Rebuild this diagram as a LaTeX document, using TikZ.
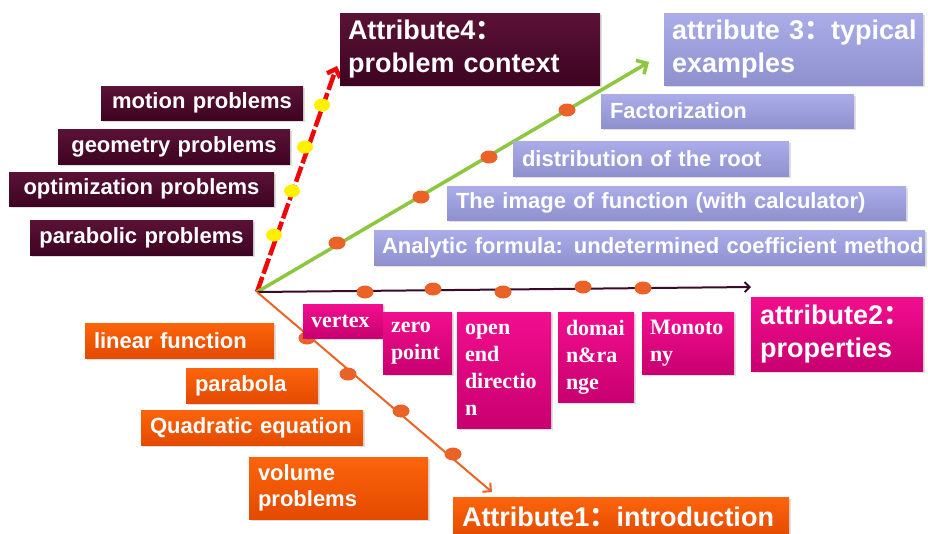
\documentclass[tikz,border=0pt]{standalone}
\usepackage{fontspec}
\setmainfont{Liberation Sans}
\newfontfamily\serifb{Liberation Serif}
\newfontfamily\cjkf{Noto Sans CJK SC}
\usetikzlibrary{arrows.meta,shapes.geometric,shadows}
\definecolor{darkA}{RGB}{90,18,54}
\definecolor{darkB}{RGB}{62,4,34}
\definecolor{lavA}{RGB}{170,173,232}
\definecolor{lavB}{RGB}{142,145,206}
\definecolor{pinkA}{RGB}{242,14,142}
\definecolor{pinkB}{RGB}{200,0,112}
\definecolor{orA}{RGB}{252,100,12}
\definecolor{orB}{RGB}{228,74,0}
\definecolor{redL}{RGB}{240,8,8}
\definecolor{greenL}{RGB}{141,198,63}
\definecolor{darkL}{RGB}{58,10,42}
\definecolor{orL}{RGB}{235,100,38}
\definecolor{dotO}{RGB}{234,98,40}
\definecolor{dotY}{RGB}{255,240,0}
\newcommand\fwcolon{{\cjkf ：}}
\tikzset{
  bx/.style={anchor=north west, inner ysep=0pt, outer sep=0pt, text=white,
    drop shadow={opacity=0.25, shadow xshift=1.5pt, shadow yshift=-1.5pt}},
  smallf/.style={font=\fontsize{22pt}{26.5pt}\selectfont\bfseries},
  bigf/.style={font=\fontsize{27pt}{33pt}\selectfont\bfseries},
  seriff/.style={font=\fontsize{22pt}{26.8pt}\selectfont\serifb\bfseries},
  darkbox/.style={bx, top color=darkA, bottom color=darkB},
  lavbox/.style={bx, top color=lavA, bottom color=lavB},
  pinkbox/.style={bx, top color=pinkA, bottom color=pinkB},
  orbox/.style={bx, top color=orA, bottom color=orB},
  odot/.style={ellipse, fill=dotO, minimum width=17pt, minimum height=13pt, inner sep=0pt},
  ydot/.style={ellipse, fill=dotY, minimum width=16pt, minimum height=13pt, inner sep=0pt},
}
\begin{document}
\begin{tikzpicture}[x=1pt,y=-1pt]
\useasboundingbox[fill=white] (0,0) rectangle (928,533);
% origin and arrow ends
\coordinate (O) at (257,292);
\coordinate (t4) at (337,66);
\coordinate (t3) at (649,62);
\coordinate (t2) at (751,287);
\coordinate (t1) at (492,492);
% connectors
\draw[redL, line width=4.5pt, dash pattern=on 16pt off 3.5pt, -{Straight Barb[length=7pt,width=14pt]}] (O) -- (t4);
\draw[greenL, line width=3.5pt, -{Straight Barb[length=8pt,width=16pt]}] (O) -- (t3);
\draw[darkL, line width=2pt, -{Straight Barb[length=5pt,width=10pt]}] (O) -- (t2);
\draw[orL, line width=2pt, -{Straight Barb[length=6pt,width=12pt]}] (O) -- (t1);
% dots
\node[ydot] (y1) at (322,105) {};
\node[ydot] (y2) at (305,147) {};
\node[ydot] (y3) at (292,191) {};
\node[ydot] (y4) at (274,235) {};
\node[odot] (g1) at (337,243) {};
\node[odot] (g2) at (421,197) {};
\node[odot] (g3) at (489,157) {};
\node[odot] (g4) at (567,110) {};
\node[odot] (h1) at (365,292) {};
\node[odot] (h2) at (433,289) {};
\node[odot] (h3) at (503,292) {};
\node[odot] (h4) at (583,287) {};
\node[odot] (h5) at (643,288) {};
\node[odot] (o1) at (307,338) {};
\node[odot] (o2) at (348,374) {};
\node[odot] (o3) at (401,411) {};
\node[odot] (o4) at (453,454) {};
% attribute 4 group
\node[darkbox, smallf, align=center, inner xsep=2pt, text width=198pt, minimum height=34pt] (mp) at (101,86) {\mbox{motion problems}};
\node[darkbox, smallf, align=center, inner xsep=2pt, text width=228pt, minimum height=35pt] (gp) at (58,129) {\mbox{geometry problems}};
\node[darkbox, smallf, align=center, inner xsep=2pt, text width=261pt, minimum height=34pt] (op) at (9,172) {\mbox{optimization problems}};
\node[darkbox, smallf, align=center, inner xsep=2pt, text width=219pt, minimum height=35pt] (pp) at (30,220) {\mbox{parabolic problems}};
\node[darkbox, bigf, align=left, inner xsep=8pt, text width=244pt, minimum height=72pt] (a4) at (340,13) {\mbox{Attribute4\fwcolon}\\\mbox{problem context}};
% attribute 3 group
\node[lavbox, bigf, align=left, inner xsep=8pt, text width=243pt, minimum height=72pt] (a3) at (664,13) {\mbox{attribute 3\fwcolon typical}\\\mbox{examples}};
\node[lavbox, smallf, align=left, inner xsep=9pt, text width=235pt, minimum height=34pt] (fac) at (601,94) {\mbox{Factorization}};
\node[lavbox, smallf, align=left, inner xsep=9pt, text width=258pt, minimum height=35pt] (dr) at (513,141) {\mbox{distribution of the root}};
\node[lavbox, smallf, align=left, inner xsep=9pt, text width=441pt, minimum height=34pt] (img) at (447,186) {\mbox{The image of function (with calculator)}};
\node[lavbox, smallf, align=left, inner xsep=8pt, text width=535pt, minimum height=35pt] (ana) at (374,230) {\mbox{Analytic formula: undetermined coefficient method}};
% attribute 2 group
\node[pinkbox, seriff, align=left, inner xsep=8pt, text width=64pt, minimum height=34pt] (vx) at (303,304) {vertex};
\node[pinkbox, seriff, align=left, inner xsep=8pt, text width=53pt, minimum height=62pt] (zp) at (383,312) {zero\\point};
\node[pinkbox, seriff, align=left, inner xsep=8pt, text width=78pt, minimum height=116pt] (oe) at (457,312) {open\\end\\directio\\n};
\node[pinkbox, seriff, align=left, inner xsep=8pt, text width=60pt, minimum height=90pt] (dm) at (558,312) {\mbox{domai}\\\mbox{n\&ra}\\nge};
\node[pinkbox, seriff, align=left, inner xsep=8pt, text width=76pt, minimum height=62pt] (mo) at (642,312) {Monoto\\ny};
\node[pinkbox, bigf, align=left, inner xsep=9pt, text width=154pt, minimum height=74pt] (a2) at (751,297) {\mbox{attribute2\fwcolon}\\\mbox{properties}};
% attribute 1 group
\node[orbox, smallf, align=left, inner xsep=9pt, text width=171pt, minimum height=35pt] (lf) at (85,323) {\mbox{linear function}};
\node[orbox, smallf, align=left, inner xsep=9pt, text width=114pt, minimum height=35pt] (pa) at (186,368) {\mbox{parabola}};
\node[orbox, smallf, align=left, inner xsep=9pt, text width=204pt, minimum height=35pt] (qe) at (141,410) {\mbox{Quadratic equation}};
\node[orbox, smallf, align=left, inner xsep=9pt, text width=161pt, minimum height=62pt] (vp) at (249,457) {\mbox{volume}\\\mbox{problems}};
\node[orbox, bigf, align=left, inner xsep=9pt, text width=318pt, minimum height=40pt] (a1) at (453,497) {\mbox{Attribute1\fwcolon introduction}};
\end{tikzpicture}
\end{document}
